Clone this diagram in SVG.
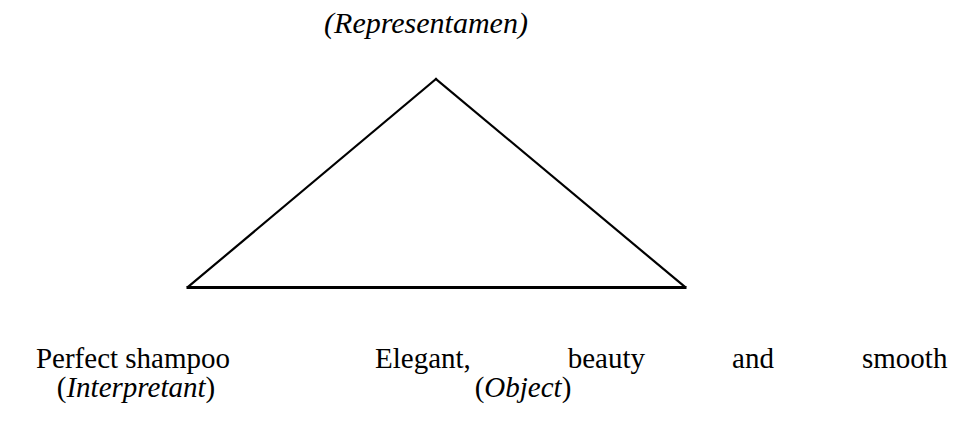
<svg xmlns="http://www.w3.org/2000/svg" width="963" height="425" viewBox="0 0 963 425">
<style>
text{font-family:"Liberation Serif","Times New Roman",serif;font-size:29px;fill:#000}
.it{font-style:italic}
.edge{stroke:#000;stroke-width:2.2;fill:none;stroke-linecap:square}
</style>
<rect width="963" height="425" fill="#fff"/>
<g id="connectors">
<line class="edge" x1="436" y1="79" x2="188" y2="287"/>
<line class="edge" x1="436" y1="79" x2="685" y2="287"/>
<line class="edge" x1="188" y1="287.5" x2="685" y2="287.5" style="stroke-width:3"/>
</g>
<g id="representamen">
<text class="it" x="426" y="33" text-anchor="middle" style="font-size:30px">(Representamen)</text>
</g>
<g id="interpretant">
<text x="133" y="368" text-anchor="middle">Perfect shampoo</text>
<text x="136" y="397" text-anchor="middle">(<tspan class="it">Interpretant</tspan>)</text>
</g>
<g id="object">
<text x="375" y="368">Elegant,</text>
<text x="645" y="368" text-anchor="end">beauty</text>
<text x="753" y="368" text-anchor="middle">and</text>
<text x="862" y="368">smooth</text>
<text x="523" y="397" text-anchor="middle">(<tspan class="it">Object</tspan>)</text>
</g>
</svg>
